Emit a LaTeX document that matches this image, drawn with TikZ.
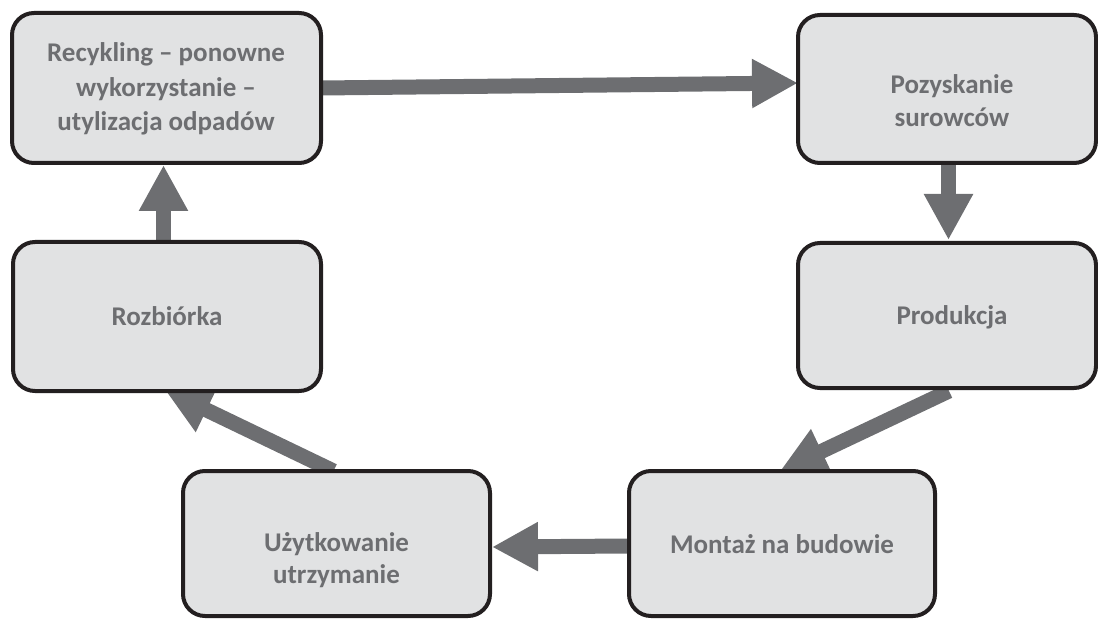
\documentclass[tikz,border=0pt]{standalone}
\usepackage{fontspec}
\setmainfont{Carlito}
\usetikzlibrary{arrows.meta,calc}
\definecolor{arrowgray}{HTML}{6D6E71}
\definecolor{boxfill}{HTML}{E1E2E3}
\definecolor{boxline}{HTML}{231F20}
\begin{document}
\begin{tikzpicture}[x=1pt,y=-1pt,
  stagebox/.style={draw=boxline, fill=boxfill, line width=4pt, rounded corners=22pt,
    inner sep=0pt, outer sep=0pt},
  lbl/.style={text=arrowgray, font=\fontsize{27}{33}\selectfont\bfseries,
    align=center, anchor=base, inner sep=0pt},
  flow/.style={draw=arrowgray, fill=arrowgray, line width=15pt,
    -{Triangle[length=46pt,width=46pt]}}]
\useasboundingbox (0,0) rectangle (1098,620);
% box placeholders (coordinates for arrows computed from nodes drawn later)
\path (166.5,88) node[stagebox, draw=none, fill=none, minimum width=309pt, minimum height=150pt] (rec) {};
\path (947,89) node[stagebox, draw=none, fill=none, minimum width=298pt, minimum height=148pt] (poz) {};
\path (947,315.5) node[stagebox, draw=none, fill=none, minimum width=298pt, minimum height=145pt] (prod) {};
\path (167,316.5) node[stagebox, draw=none, fill=none, minimum width=308pt, minimum height=149pt] (rozb) {};
\path (336.5,543.5) node[stagebox, draw=none, fill=none, minimum width=307pt, minimum height=145pt] (uzyt) {};
\path (782,543.5) node[stagebox, draw=none, fill=none, minimum width=306pt, minimum height=145pt] (mont) {};
% arrows
\draw[flow] ($(rec.east)+(0,0)$) -- ($(poz.west)+(0,-6)$);
\draw[flow] ($(poz.south)+(1.5,0)$) -- ($(prod.north)+(1.5,-3)$);
\draw[flow] ($(prod.south)+(2,3)$) -- ($(mont.north)+(-2,0)$);
\draw[flow] ($(mont.west)+(0,2.5)$) -- ($(uzyt.east)+(2,3.5)$);
\draw[flow] ($(uzyt.north)+(-3,0)$) -- ($(rozb.south)+(-2,-1)$);
\draw[flow] ($(rozb.north)+(-3.5,0)$) -- ($(rec.south)+(-3,2)$);
% boxes
\node[stagebox, minimum width=309pt, minimum height=150pt] (recB) at (rec) {};
\node[stagebox, minimum width=298pt, minimum height=148pt] (pozB) at (poz) {};
\node[stagebox, minimum width=298pt, minimum height=145pt] (prodB) at (prod) {};
\node[stagebox, minimum width=308pt, minimum height=149pt] (rozbB) at (rozb) {};
\node[stagebox, minimum width=307pt, minimum height=145pt] (uzytB) at (uzyt) {};
\node[stagebox, minimum width=306pt, minimum height=145pt] (montB) at (mont) {};
% labels (anchor=base is the baseline of the last line)
\node[lbl] (t1) at (166,131) {Recykling – ponowne\\[1.5pt]wykorzystanie –\\[1.5pt]utylizacja odpadów};
\node[lbl] (t2) at (952,127) {Pozyskanie\\surowców};
\node[lbl] (t3) at (952,325) {Produkcja};
\node[lbl] (t4) at (167,326) {Rozbiórka};
\node[lbl] (t5) at (336.5,583) {Użytkowanie\\[-1pt]utrzymanie};
\node[lbl] (t6) at (782,553) {Montaż na budowie};
\end{tikzpicture}
\end{document}
